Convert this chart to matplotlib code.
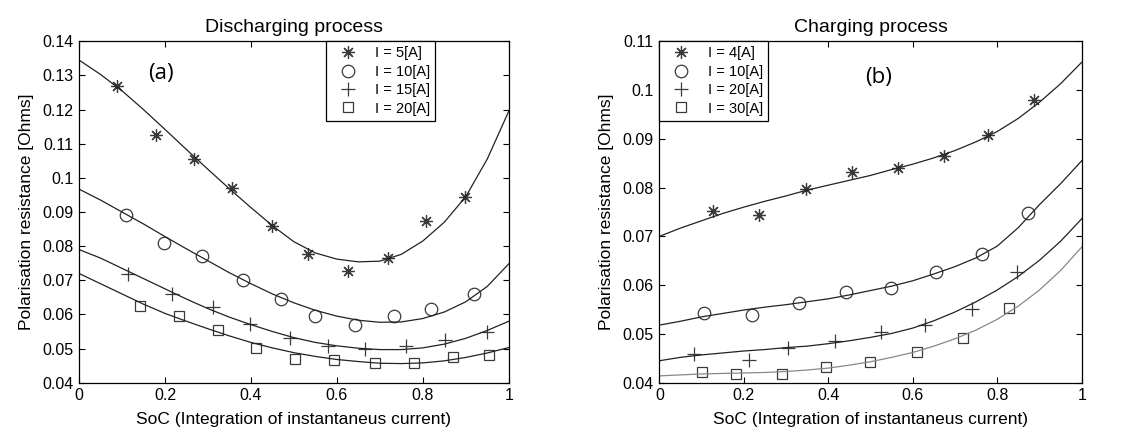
import numpy as np
import matplotlib
matplotlib.use("Agg")
import matplotlib.pyplot as plt
from matplotlib.ticker import FormatStrFormatter

plt.rcParams['font.family'] = ['Liberation Sans', 'DejaVu Sans']

# ---- Discharging process (a) ----
dis_labels = ['I = 5[A]', 'I = 10[A]', 'I = 15[A]', 'I = 20[A]']
dis_x5 = [0.089, 0.178, 0.267, 0.357, 0.450, 0.532, 0.625, 0.718, 0.807, 0.899]
dis_y5 = [0.1270, 0.1127, 0.1056, 0.0971, 0.0858, 0.0776, 0.0727, 0.0765, 0.0873, 0.0944]
dis_x10 = [0.109, 0.198, 0.287, 0.381, 0.469, 0.550, 0.642, 0.732, 0.820, 0.919]
dis_y10 = [0.0892, 0.0810, 0.0771, 0.0701, 0.0644, 0.0595, 0.0569, 0.0595, 0.0617, 0.0661]
dis_x15 = [0.115, 0.216, 0.311, 0.398, 0.490, 0.580, 0.665, 0.760, 0.852, 0.949]
dis_y15 = [0.0718, 0.0659, 0.0622, 0.0573, 0.0530, 0.0508, 0.0500, 0.0507, 0.0524, 0.0549]
dis_x20 = [0.143, 0.233, 0.323, 0.413, 0.502, 0.593, 0.689, 0.780, 0.870, 0.953]
dis_y20 = [0.0624, 0.0595, 0.0554, 0.0503, 0.0469, 0.0466, 0.0457, 0.0458, 0.0474, 0.0481]

# fitted curves every 0.05
fit_x = [0.0, 0.05, 0.1, 0.15, 0.2, 0.25, 0.3, 0.35, 0.4, 0.45, 0.5,
         0.55, 0.6, 0.65, 0.7, 0.75, 0.8, 0.85, 0.9, 0.95, 1.0]
dis_fit5 = [0.1345, 0.1303, 0.1255, 0.1200, 0.1142, 0.1083, 0.1025, 0.0968, 0.0913, 0.0860, 0.0813,
            0.0780, 0.0762, 0.0754, 0.0756, 0.0776, 0.0815, 0.0870, 0.0945, 0.1055, 0.1195]
dis_fit10 = [0.0967, 0.0935, 0.0900, 0.0865, 0.0828, 0.0792, 0.0757, 0.0722, 0.0690, 0.0660, 0.0634,
             0.0612, 0.0595, 0.0583, 0.0577, 0.0578, 0.0588, 0.0607, 0.0637, 0.0682, 0.0748]
dis_fit15 = [0.0790, 0.0765, 0.0735, 0.0705, 0.0675, 0.0645, 0.0617, 0.0592, 0.0570, 0.0550, 0.0532,
             0.0518, 0.0508, 0.0501, 0.0497, 0.0497, 0.0502, 0.0513, 0.0530, 0.0553, 0.0580]
dis_fit20 = [0.0720, 0.0690, 0.0660, 0.0630, 0.0603, 0.0580, 0.0558, 0.0537, 0.0518, 0.0502, 0.0488,
             0.0477, 0.0468, 0.0462, 0.0457, 0.0456, 0.0458, 0.0464, 0.0474, 0.0487, 0.0503]

# ---- Charging process (b) ----
ch_labels = ['I = 4[A]', 'I = 10[A]', 'I = 20[A]', 'I = 30[A]']
ch_x4 = [0.128, 0.237, 0.347, 0.456, 0.564, 0.673, 0.779, 0.886]
ch_y4 = [0.0753, 0.0744, 0.0798, 0.0833, 0.0841, 0.0865, 0.0907, 0.0980]
ch_x10 = [0.106, 0.219, 0.330, 0.442, 0.548, 0.655, 0.765, 0.872]
ch_y10 = [0.0543, 0.0538, 0.0563, 0.0587, 0.0595, 0.0626, 0.0664, 0.0747]
ch_x20 = [0.081, 0.213, 0.304, 0.417, 0.524, 0.630, 0.740, 0.846]
ch_y20 = [0.0459, 0.0447, 0.0472, 0.0485, 0.0503, 0.0519, 0.0552, 0.0627]
ch_x30 = [0.102, 0.181, 0.290, 0.394, 0.499, 0.610, 0.718, 0.827]
ch_y30 = [0.0422, 0.0417, 0.0418, 0.0433, 0.0442, 0.0463, 0.0491, 0.0554]

ch_fit4 = [0.0700, 0.0717, 0.0732, 0.0747, 0.0760, 0.0772, 0.0783, 0.0795, 0.0805, 0.0815, 0.0825,
           0.0837, 0.0848, 0.0861, 0.0876, 0.0894, 0.0915, 0.0942, 0.0975, 0.1013, 0.1057]
ch_fit10 = [0.0518, 0.0526, 0.0535, 0.0542, 0.0549, 0.0555, 0.0560, 0.0566, 0.0572, 0.0580, 0.0589,
            0.0598, 0.0609, 0.0623, 0.0638, 0.0656, 0.0680, 0.0718, 0.0765, 0.0808, 0.0855]
ch_fit20 = [0.0445, 0.0452, 0.0457, 0.0461, 0.0465, 0.0468, 0.0472, 0.0475, 0.0480, 0.0486, 0.0493,
            0.0501, 0.0512, 0.0527, 0.0545, 0.0566, 0.0590, 0.0618, 0.0651, 0.0690, 0.0736]
ch_fit30 = [0.0414, 0.0416, 0.0418, 0.0419, 0.0420, 0.0421, 0.0423, 0.0426, 0.0430, 0.0436, 0.0443,
            0.0452, 0.0462, 0.0475, 0.0490, 0.0508, 0.0530, 0.0557, 0.0590, 0.0630, 0.0678]

asterisk = (8, 2, 0)
mk_color = '#3a3a3a'
marker_style = [
    dict(marker=asterisk, markersize=9, markeredgewidth=0.9),
    dict(marker='o', markersize=9, markerfacecolor='none', markeredgewidth=0.9),
    dict(marker='+', markersize=10, markeredgewidth=0.9),
    dict(marker='s', markersize=7.5, markerfacecolor='none', markeredgewidth=0.9),
]


def style_axes(ax, ymin, ymax, yticks):
    ax.set_xlim(0, 1)
    ax.set_ylim(ymin, ymax)
    ax.set_xticks([0, 0.2, 0.4, 0.6, 0.8, 1])
    ax.set_yticks(yticks)
    ax.xaxis.set_major_formatter(FormatStrFormatter('%g'))
    ax.yaxis.set_major_formatter(FormatStrFormatter('%g'))
    ax.tick_params(direction='in', top=True, right=True, length=4, width=0.8,
                   labelsize=11.5, pad=4)
    for s in ax.spines.values():
        s.set_linewidth(0.9)
    ax.set_xlabel('SoC (Integration of instantaneus current)', fontsize=12.5, labelpad=6)
    ax.set_ylabel('Polarisation resistance [Ohms]', fontsize=12.5, labelpad=6)


fig = plt.figure(figsize=(11.29, 4.32), dpi=100)
ax1 = fig.add_axes([0.070, 0.1141, 0.3806, 0.7903])
ax2 = fig.add_axes([0.584, 0.1141, 0.3741, 0.7903])

# panel (a)
dis_pts = [(dis_x5, dis_y5), (dis_x10, dis_y10), (dis_x15, dis_y15), (dis_x20, dis_y20)]
dis_fits = [dis_fit5, dis_fit10, dis_fit15, dis_fit20]
handles = []
for (px, py), fy, ms, lab in zip(dis_pts, dis_fits, marker_style, dis_labels):
    h, = ax1.plot(px, py, linestyle='none', color=mk_color, label=lab, **ms)
    ax1.plot(fit_x, fy, color='#222222', linewidth=0.9)
    handles.append(h)
style_axes(ax1, 0.04, 0.14, np.arange(0.04, 0.1401, 0.01))
ax1.set_title('Discharging process', fontsize=14, pad=7)
ax1.text(0.19, 0.905, '(a)', transform=ax1.transAxes, fontsize=16,
         family=['Open Sans', 'DejaVu Sans'], ha='center', va='center')
ax1.legend(handles=handles, loc='upper left', bbox_to_anchor=(0.575, 1.0),
           borderaxespad=0, fancybox=False, edgecolor='black', framealpha=1,
           fontsize=10.5, handlelength=2.3, handletextpad=0.7, labelspacing=0.3,
           borderpad=0.35).get_frame().set_linewidth(0.9)

# panel (b)
ch_pts = [(ch_x4, ch_y4), (ch_x10, ch_y10), (ch_x20, ch_y20), (ch_x30, ch_y30)]
ch_fits = [ch_fit4, ch_fit10, ch_fit20, ch_fit30]
line_cols = ['#222222', '#222222', '#222222', '#888888']
handles = []
for (px, py), fy, ms, lab, lc in zip(ch_pts, ch_fits, marker_style, ch_labels, line_cols):
    h, = ax2.plot(px, py, linestyle='none', color=mk_color, label=lab, **ms)
    ax2.plot(fit_x, fy, color=lc, linewidth=0.9)
    handles.append(h)
style_axes(ax2, 0.04, 0.11, np.arange(0.04, 0.1101, 0.01))
ax2.set_title('Charging process', fontsize=14, pad=7)
ax2.text(0.518, 0.895, '(b)', transform=ax2.transAxes, fontsize=16,
         family=['Open Sans', 'DejaVu Sans'], ha='center', va='center')
ax2.legend(handles=handles, loc='upper left', bbox_to_anchor=(0.0, 1.0),
           borderaxespad=0, fancybox=False, edgecolor='black', framealpha=1,
           fontsize=10.5, handlelength=2.3, handletextpad=0.7, labelspacing=0.3,
           borderpad=0.35).get_frame().set_linewidth(0.9)

fig.savefig('out.png', dpi=100)
